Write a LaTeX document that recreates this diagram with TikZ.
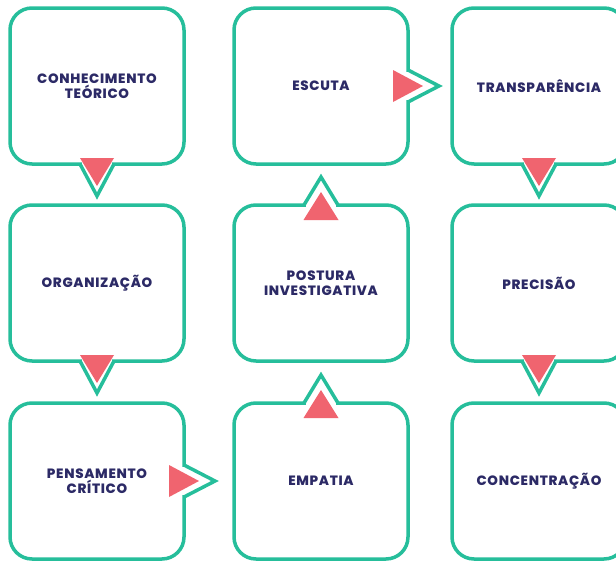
\documentclass[tikz,border=0pt]{standalone}
\usepackage{fontspec}
\newfontfamily\cardfont{Poppins}[BoldFont={Poppins ExtraBold},LetterSpace=5]
\usetikzlibrary{
	calc,
	positioning,
}
\definecolor{tealline}{HTML}{26BE9B}
\definecolor{coral}{HTML}{F0646F}
\definecolor{navy}{HTML}{2C2A66}
\tikzset{card/.style={
	draw=tealline,
	fill=white,
	line width=3.5pt,
	rounded corners=22pt,
	minimum width=174pt,
	minimum height=156pt,
	outer sep=0pt,
	align=center,
	text=navy,
	font=\cardfont\bfseries\fontsize{13.5}{14.5}\selectfont,
},
tailline/.style={
	draw=tealline,
	line width=3.5pt,
	line join=miter,
},
redtip/.style={
	fill=coral,
}}

\begin{document}
\begin{tikzpicture}[x=1pt,y=-1pt]
\useasboundingbox (0,0) rectangle (616,560);

\node[card](1) at(97,86) {CONHECIMENTO\\TEÓRICO};
\node[card](2) at(97,283) {ORGANIZAÇÃO};
\node[card](3) at(97,481) {PENSAMENTO\\CRÍTICO};
\node[card](4) at(321,481) {EMPATIA};
\node[card](5) at(321,283) {POSTURA\\INVESTIGATIVA};
\node[card](6) at(321,86) {ESCUTA};
\node[card](7) at(539,86) {TRANSPARÊNCIA};
\node[card](8) at(539,283) {PRECISÃO};
\node[card](9) at(539,481) {CONCENTRAÇÃO};

% tails pointing down
\foreach \i in {1,2,7,8}{
	\fill[white] ($(\i.south)+(-15,-3)$) rectangle ($(\i.south)+(15,3)$);
	\draw[tailline] ($(\i.south)+(-17,0)$) -- ($(\i.south)+(0,32)$) -- ($(\i.south)+(17,0)$);
	\fill[redtip] ($(\i.south)+(-17,-6)$) -- ($(\i.south)+(17,-6)$) -- ($(\i.south)+(0,22)$) -- cycle;
}

% tails pointing right
\foreach \i in {3,6}{
	\fill[white] ($(\i.east)+(-3,-14)$) rectangle ($(\i.east)+(3,14)$);
	\draw[tailline] ($(\i.east)+(0,-16)$) -- ($(\i.east)+(31,0)$) -- ($(\i.east)+(0,16)$);
	\fill[redtip] ($(\i.east)+(-15,-16)$) -- ($(\i.east)+(15,0)$) -- ($(\i.east)+(-15,16)$) -- cycle;
}

% tails pointing up
\foreach \i in {4,5}{
	\fill[white] ($(\i.north)+(-15,-3)$) rectangle ($(\i.north)+(15,3)$);
	\draw[tailline] ($(\i.north)+(-17,0)$) -- ($(\i.north)+(0,-28)$) -- ($(\i.north)+(17,0)$);
	\fill[redtip] ($(\i.north)+(-17.5,15)$) -- ($(\i.north)+(17.5,15)$) -- ($(\i.north)+(0,-13)$) -- cycle;
}
\end{tikzpicture}
\end{document}
